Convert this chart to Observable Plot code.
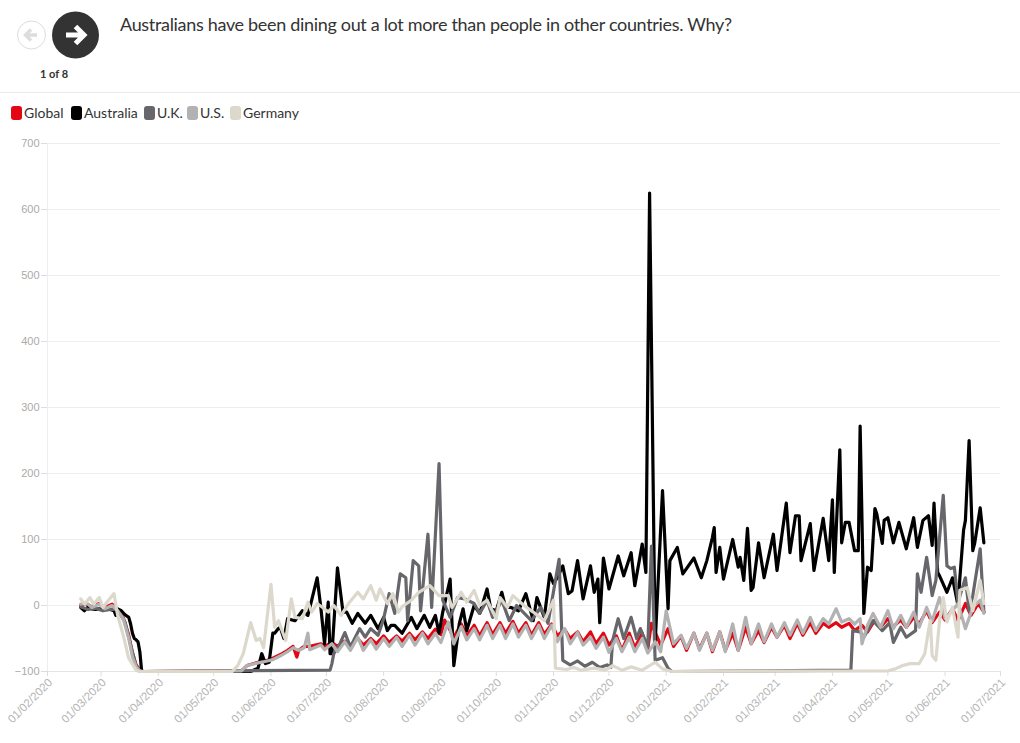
<!DOCTYPE html>
<html><head><meta charset="utf-8">
<script src="https://cdn.jsdelivr.net/npm/d3@7"></script>
<script src="https://cdn.jsdelivr.net/npm/@observablehq/plot@0.6"></script>
<style>
html,body{margin:0;padding:0;background:#fff;width:1020px;height:743px;overflow:hidden;font-family:Lato,sans-serif}
#head{position:absolute;left:0;top:0;width:1020px;height:92px;border-bottom:1px solid #eaeaea}
#title{position:absolute;left:120px;top:12px;font-size:18px;letter-spacing:-.32px;color:#333;white-space:nowrap;line-height:24px}
#count{position:absolute;left:20px;width:68px;text-align:center;top:67px;font-size:11px;font-weight:700;color:#333}
#btn{position:absolute;left:0;top:0}
#legend{position:absolute;left:11px;top:104px;display:flex;font-size:14px;color:#333;line-height:18px}
#legend span.i{display:flex;align-items:center}
#legend span.s{display:inline-block;width:11px;height:14px;border-radius:3px;margin-right:2px}
#chart{position:absolute;left:0;top:130px}
#chart svg{display:block;overflow:visible}
</style></head><body>
<div id="head">
<svg id="btn" width="110" height="70">
<circle cx="31.5" cy="35" r="14" fill="#fff" stroke="#ddd"/>
<path d="M37 35H26M31 29.5L25.5 35L31 40.5" fill="none" stroke="#ddd" stroke-width="3.5"/>
<circle cx="75.5" cy="35" r="23.5" fill="#333"/>
<path d="M66 35H83M75.5 26.5L84 35L75.5 43.5" fill="none" stroke="#fff" stroke-width="5"/>
</svg>
<div id="count">1 of 8</div>
<div id="title"></div>
</div>
<div id="legend"></div>
<div id="chart"></div>
<script>
const titleText = "Australians have been dining out a lot more than people in other countries. Why?";
const seriesNames = ["Global","Australia","U.K.","U.S.","Germany"];
const seriesColors = ["#e30613","#000000","#67666b","#b2b2b2","#ddd8cc"];
const legendWidths = [60,73,43,43,70];
const yTicks = [-100,0,100,200,300,400,500,600,700];

const global = [[18,0],[21,3],[24,-2],[28,3],[31,-3],[35,2],[38,-6],[41,-18],[44,-45],[46,-72],[48,-90],[50,-98],[52,-100],[105,-99],[108,-91],[114,-86],[119,-83],[122,-80],[127,-73],[130,-68],[133,-62],[135,-78],[136,-68],[139,-62],[142,-62],[148,-58],[150,-62],
[154,-56],[157,-62],[161,-54],[164,-60],[168,-50],[171,-60],[175,-50],[178,-58],[182,-46],[185,-56],[189,-46],[192,-54],[196,-42],[199,-52],[203,-40],[206,-50],[210,-36],[213,-44],[215,-22],[220,-48],[224,-28],[227,-46],[231,-30],[234,-46],[238,-26],[241,-44],[245,-26],[248,-42],[252,-24],[255,-42],[259,-26],[262,-45],[266,-26],[269,-44],[273,-28],[276,-46],[280,-36],[283,-50],[287,-40],[290,-55],[294,-40],[297,-58],[301,-42],[304,-60],[308,-46],[311,-68],[315,-42],[318,-64],[322,-42],[325,-66],[327,-27],[332,-60],[336,-35],[339,-62],[343,-46],[346,-68],[350,-42],[353,-66],[357,-42],[360,-70],[364,-40],[367,-68],[371,-42],[374,-68],
[378,-33],[381,-58],[385,-38],[388,-56],[392,-33],[395,-48],[399,-30],[402,-50],[406,-27],[409,-45],[413,-26],[416,-42],[420,-27],[423,-33],[427,-26],[430,-33],[434,-27],[437,-38],[441,-30],[444,-40],[448,-22],[451,-33],[455,-20],[458,-32],[462,-22],[465,-33],[469,-18],[472,-28],[476,-8],[479,-26],[483,-10],[486,-22],[490,-5],[493,-23],[497,3],[500,-15],[504,3],[507,-10]];

const australia = [[18,-3],[20,-8],[22,-2],[24,-5],[26,-6],[28,-5],[30,-6],[32,-5],[34,-6],[36,-8],[37,-15],[38,-5],[40,-8],[42,-14],[44,-18],[45,-28],[46,-42],[47,-50],[48,-52],[49,-55],[50,-70],[51,-100],[110,-100],[114,-95],[116,-73],[118,-88],[120,-86],[122,-42],[123,-42],[125,-35],[126,-33],[128,-50],[130,-20],[134,-23],[138,-8],[141,-15],[146,42],[148,-3],[150,-58],[152,5],[153,-73],[154,-73],[157,57],[160,-10],[162,-10],[165,-27],[168,-12],[172,-27],[175,-15],[179,-35],[182,-18],[184,-38],[186,-30],[188,-30],[192,-42],[197,-18],[200,-35],[204,-15],[207,-33],[210,-15],[212,-42],[214,-10],[218,40],[220,-91],[223,-27],[225,-5],[227,-38],[231,0],[234,-12],[238,25],[240,-5],[243,-8],[246,20],[248,-3],[251,-3],[255,-8],[259,18],[263,-23],[265,12],[269,-18],[272,48],[274,33],[276,42],[279,60],[282,18],[284,22],[287,68],[290,10],[294,60],[296,20],[298,40],[299,-26],[301,72],[304,25],[309,75],[312,45],[316,80],[318,30],[322,93],[324,50],[326,625],[329,-58],[333,174],[336,-5],[337,68],[341,88],[344,48],[350,72],[354,42],[357,68],[360,103],[361,118],[362,50],[364,88],[366,40],[371,100],[374,58],[375,73],[377,38],[379,117],[381,23],[382,27],[385,95],[388,42],[393,108],[395,53],[400,155],[402,80],[405,136],[407,136],[408,68],[413,124],[415,53],[420,132],[423,68],[425,160],[426,50],[429,236],[430,95],[432,126],[434,126],[437,83],[439,83],[440,272],[442,-12],[444,58],[446,53],[448,147],[449,139],[452,94],[453,129],[455,133],[458,95],[461,126],[465,86],[469,133],[471,88],[474,129],[477,136],[479,91],[480,155],[482,50],[483,45],[487,20],[490,42],[493,0],[494,42],[496,114],[497,129],[499,250],[501,83],[502,94],[505,148],[507,95]];

const uk = [[18,-2],[22,-6],[26,-4],[30,-8],[34,-6],[37,-6],[39,-12],[42,-25],[45,-60],[48,-92],[50,-100],[153,-98],[154,-88],[155,-73],[158,-60],[161,-41],[164,-63],[169,-35],[172,-48],[175,-35],[179,-45],[182,-20],[185,18],[188,-12],[191,48],[194,42],[195,-23],[198,68],[201,60],[202,-8],[206,108],[208,-3],[212,215],[214,8],[218,-18],[222,12],[226,10],[231,3],[234,-12],[238,8],[241,-18],[246,8],[250,-23],[254,0],[262,-23],[267,-3],[271,-27],[277,70],[279,-83],[283,-90],[287,-84],[291,-92],[295,-86],[299,-94],[303,-90],[305,-94],[306,-53],[309,-20],[312,-50],[316,-18],[319,-50],[321,-35],[325,-63],[327,90],[329,-83],[333,-79],[336,-95],[338,-100],[435,-98],[436,-38],[440,-40],[442,-48],[447,-23],[452,-38],[456,-26],[458,-56],[462,-33],[465,-48],[470,-38],[471,48],[473,20],[476,73],[479,15],[481,38],[485,167],[487,60],[489,56],[491,58],[493,5],[497,42],[499,-8],[501,15],[505,86],[507,-10]];

const us = [[18,2],[21,4],[24,-3],[28,2],[31,-5],[35,0],[38,-8],[41,-20],[44,-50],[46,-78],[48,-93],[50,-99],[52,-100],[105,-99],[108,-91],[114,-87],[119,-84],[122,-82],[127,-75],[130,-70],[133,-64],[136,-68],[139,-64],[141,-42],[142,-67],[148,-60],[150,-67],
[154,-58],[157,-70],[161,-55],[164,-68],[168,-48],[171,-68],[175,-52],[178,-66],[182,-50],[185,-62],[189,-48],[192,-62],[196,-45],[199,-60],[203,-42],[206,-58],[210,-42],[213,-56],[217,-25],[220,-58],[224,-32],[227,-52],[231,-35],[234,-52],[238,-30],[241,-50],[245,-30],[248,-50],[252,-28],[255,-48],[259,-30],[262,-50],[266,-30],[269,-50],[273,-30],[276,-55],[280,-35],[283,-58],[287,-41],[290,-60],[294,-48],[297,-65],[301,-48],[304,-71],[308,-50],[311,-70],[315,-48],[318,-70],[322,-50],[325,-72],[329,-55],[332,-70],[335,-8],[339,-58],[343,-45],[346,-65],[350,-42],[353,-68],[357,-42],[360,-68],[364,-40],[367,-70],[371,-28],[374,-68],[378,-18],[381,-58],[385,-28],[388,-55],[392,-28],[395,-48],[399,-26],[402,-45],[406,-22],[409,-42],[413,-18],[416,-38],[420,-20],[423,-28],[427,-5],[430,-25],[434,-20],[437,-28],[440,-20],[441,-58],[444,-30],[447,-12],[451,-33],[455,-8],[458,-35],[462,-15],[465,-33],[469,-10],[472,-33],[476,-3],[479,-24],[483,12],[486,-20],[490,-8],[493,3],[497,-35],[501,-3],[505,8],[507,-12]];

const germany = [[18,10],[20,2],[23,12],[25,2],[28,12],[30,-3],[33,8],[36,18],[38,-15],[41,-45],[44,-80],[48,-98],[50,-100],[100,-100],[103,-91],[106,-73],[110,-26],[113,-53],[115,-50],[117,-64],[121,32],[123,-33],[125,-23],[129,-53],[132,10],[134,-18],[138,-20],[141,5],[143,-10],[146,3],[149,-3],[152,-10],[155,0],[159,-15],[163,3],[168,20],[171,10],[175,30],[178,8],[180,25],[184,3],[187,18],[190,-10],[192,-2],[197,8],[201,20],[207,30],[212,15],[217,15],[219,-3],[224,20],[227,5],[231,23],[234,0],[238,8],[243,-20],[245,12],[249,-3],[252,15],[258,0],[263,-10],[269,-23],[274,8],[275,-95],[281,-97],[285,-94],[289,-98],[296,-95],[302,-98],[306,-91],[311,-98],[316,-93],[322,-98],[329,-86],[333,-96],[338,-100],[455,-99],[459,-96],[463,-91],[467,-88],[472,-88],[475,-73],[477,-38],[478,-23],[479,-76],[481,-83],[483,-23],[485,12],[487,-25],[490,-3],[493,-48],[494,23],[498,27],[501,-8],[505,38],[507,3]];

const dataBySeries = [global, australia, uk, us, germany];
const start = new Date(Date.UTC(2020,1,1));
const end = new Date(Date.UTC(2021,6,1));
const rows = s => s.map(([d,v]) => ({date: d3.utcDay.offset(start,d), value: v}));
const monthTicks = d3.utcMonth.range(start, d3.utcDay.offset(end,1));
const fmt = d3.utcFormat("%d/%m/%Y");

document.getElementById("title").textContent = titleText;
document.getElementById("legend").innerHTML = seriesNames.map((n,i)=>`<span class="i" style="width:${legendWidths[i]}px"><span class="s" style="background:${seriesColors[i]}"></span>${n}</span>`).join("");

const plot = Plot.plot({
  width: 1020, height: 613,
  marginLeft: 47, marginRight: 20, marginTop: 13, marginBottom: 72,
  style: {background:"transparent", fontFamily:"'Liberation Sans',Arial,sans-serif", fontSize:"11px", color:"#aaa", overflow:"visible"},
  x: {type:"utc", domain:[start,end], label:null},
  y: {domain:[-100,700], label:null},
  marks: [
    Plot.ruleY(yTicks.filter(t=>t!==-100), {stroke:"#eeeeee", strokeWidth:1}),
    Plot.ruleY([-100], {stroke:"#e4e4e4", strokeWidth:1}),
    Plot.ruleX([start], {stroke:"#eeeeee", strokeWidth:1}),
    Plot.axisY({ticks:yTicks, tickSize:6, tickPadding:2, stroke:"#ddd", fill:"#aaa", label:null}),
    Plot.axisX({ticks:monthTicks, tickFormat:()=>"", tickSize:5, stroke:"#ddd", label:null}),
    Plot.axisX({ticks:monthTicks, tickFormat:fmt, tickRotate:-45, tickSize:0, tickPadding:9, dx:3, fontSize:11.5, fill:"#b5b5b5", label:null}),
    ...dataBySeries.map((s,i)=>Plot.line(rows(s),{x:"date",y:"value",stroke:seriesColors[i],strokeWidth:3.2,strokeLinejoin:"round",curve:"linear"}))
  ]
});
document.getElementById("chart").appendChild(plot);
</script>
</body></html>
